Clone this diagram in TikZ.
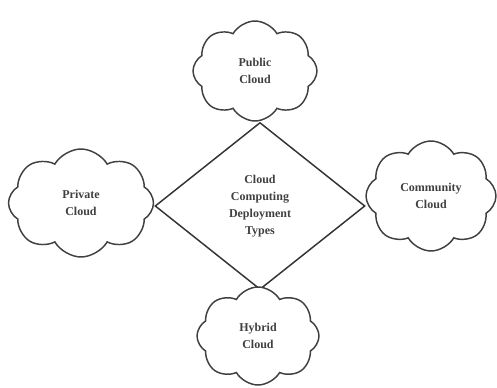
\documentclass[tikz,border=0pt]{standalone}
\usepackage{fontspec}
\setmainfont{Liberation Serif}
\usetikzlibrary{shapes.geometric,shapes.symbols}
\begin{document}
\begin{tikzpicture}[x=0.75pt,y=-0.75pt,
  lbl/.style={font=\fontsize{9}{12.75}\selectfont\bfseries, text=black!75, align=center},
  cloudbox/.style={cloud, cloud puffs=8, cloud puff arc=120, cloud ignores aspect, draw=black!75, line width=1.1pt, fill=white, inner sep=0pt, lbl},
  diam/.style={diamond, draw=black!80, line width=1.1pt, inner sep=0pt, lbl}]
\useasboundingbox (0,0) rectangle (497,388);
\node[diam, minimum width=210*0.75pt, minimum height=167*0.75pt] (d) at (260,206) {Cloud\\Computing\\Deployment\\Types};
\node[cloudbox, minimum width=124*0.75pt, minimum height=100*0.75pt] (pub) at (255,71) {Public\\Cloud};
\node[cloudbox, minimum width=145*0.75pt, minimum height=108*0.75pt] (pri) at (81,203) {Private\\Cloud};
\node[cloudbox, minimum width=130*0.75pt, minimum height=110*0.75pt] (com) at (431,196) {Community\\Cloud};
\node[cloudbox, minimum width=122*0.75pt, minimum height=98*0.75pt] (hyb) at (258,336) {Hybrid\\Cloud};
\end{tikzpicture}
\end{document}
